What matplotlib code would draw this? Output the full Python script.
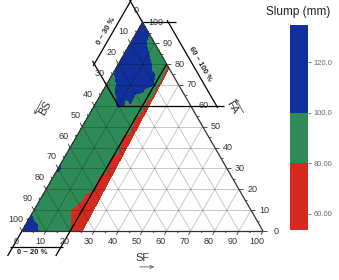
import numpy as np
import matplotlib
matplotlib.use('Agg')
import matplotlib.pyplot as plt
import matplotlib.tri as mtri

plt.rcParams['font.family'] = ['Liberation Sans', 'DejaVu Sans']

# Mix points: SF %, FA % (BS = 100 - SF - FA) and measured slump (mm)
sf = [0, 5, 10, 15, 20, 25,
      0, 5, 10, 15, 20, 24.5,
      0, 5, 10, 15, 20, 24.1,
      0, 5, 10, 15, 20, 23.7,
      0, 5, 10, 15, 20, 23.3,
      0, 5, 10, 15, 20, 22.9,
      0, 5, 10, 15, 20, 22.5,
      0, 5, 10, 15, 20, 22.2,
      0, 5, 10, 15, 20, 22.1,
      22,
      0, 5, 10, 15, 20,
      0, 5, 10,
      0, 5,
      0]
fa = [0, 0, 0, 0, 0, 0,
      10, 10, 10, 10, 10, 10,
      20, 20, 20, 20, 20, 20,
      30, 30, 30, 30, 30, 30,
      40, 40, 40, 40, 40, 40,
      50, 50, 50, 50, 50, 50,
      60, 60, 60, 60, 60, 60,
      70, 70, 70, 70, 70, 70,
      75, 75, 75, 75, 75, 75,
      78,
      80, 80, 80, 80, 80,
      90, 90, 90,
      95, 95,
      100]
slump = [118, 104, 92, 88, 80.5, 66,
         95, 90, 86, 80.3, 74, 62,
         90, 89, 88, 86, 80.5, 68,
         102, 90, 89, 88, 83, 70,
         92, 90, 89, 88, 84, 70,
         94, 92, 90, 89, 85, 70,
         92, 95, 100.8, 99, 86, 70,
         92, 101.5, 110, 108, 99.5, 70,
         98, 108, 112, 103, 97, 69,
         68,
         100.5, 112, 110, 96, 88,
         118, 104, 90,
         122, 101,
         125]

levels = [53.6, 80, 100, 134.7]
level_colors = ['#D52B1E', '#2E8B57', '#11309B']
cbar_ticks = [60, 80, 100, 120]
cbar_labels = ['60.00', '80.00', '100.0', '120.0']
tick_vals = list(range(0, 101, 10))

R3 = np.sqrt(3) / 2


def tern(s, f):
    # (SF, FA) -> cartesian, BS at bottom-left, SF at bottom-right, FA on top
    s = np.asarray(s, dtype=float)
    f = np.asarray(f, dtype=float)
    return s + f / 2, f * R3


def seg(p, q, **kw):
    x0, y0 = tern(*p)
    x1, y1 = tern(*q)
    ax.plot([x0, x1], [y0, y1], solid_capstyle='butt', **kw)


fig = plt.figure(figsize=(3.39, 2.80), dpi=100)
ax = fig.add_axes([0, 0, 1, 1])
ax.set_xlim(-22 / 2.41, (339 - 22) / 2.41)
ax.set_ylim((231 - 280) / 2.41, 231 / 2.41)
ax.axis('off')

# Filled contours
x, y = tern(sf, fa)
tri = mtri.Triangulation(x, y)
cs = ax.tricontourf(tri, slump, levels=levels, colors=level_colors, zorder=1)

# Grid
grid_kw = dict(color='k', alpha=0.25, lw=0.6, zorder=2)
for v in range(10, 100, 10):
    seg((v, 0), (v, 100 - v), **grid_kw)
    seg((0, v), (100 - v, v), **grid_kw)
    seg((0, 100 - v), (100 - v, 0), **grid_kw)

# Frame
edge_kw = dict(color='#333333', lw=0.9, zorder=3)
seg((0, 0), (100, 0), **edge_kw)
seg((100, 0), (0, 100), **edge_kw)
seg((0, 100), (0, 0), **edge_kw)

# Ticks and tick labels
tk = dict(color='#333333', lw=0.6, zorder=3)
lab = dict(fontsize=6.5, color='#333333', ha='center', va='center', zorder=5)
for v in range(0, 101, 5):
    L = 1.8 if v % 10 == 0 else 1.0
    seg((v, 0), (v, -L), **tk)
    seg((100 - v, v), (100 - v + L, v), **tk)
    seg((0, 100 - v), (-L, 100 - v + L), **tk)
for v in tick_vals:
    ax.text(*tern(v, -5), str(v), **lab)
    ax.text(*tern(100 - v + 5.5, v), str(v), **lab)
    ax.text(*tern(-5.5, 100 - v + 5.5), str(v), **lab)

# Range markers
blk = dict(color='black', lw=0.9, zorder=4)
seg((20, 80), (20, -12), **blk)
seg((0, 0), (0, -12), **blk)
seg((-1, -7.7), (21, -7.7), **blk)
seg((10, 60), (-11.5, 81.5), **blk)
seg((0, 100), (-11.5, 111.5), **blk)
seg((-10, 79), (-10, 111), **blk)
seg((10, 60), (54, 60), **blk)
seg((0, 100), (14, 100), **blk)
seg((110.7 - 59, 59), (110.7 - 101, 101), **blk)

dim = dict(fontsize=5.5, fontweight='bold', color='#222222', ha='center', va='center')
ax.text(*tern(9.5, -10.3), '0 ~ 20 %', **dim)
ax.text(*tern(-13, 96), '0 ~ 30 %', rotation=60, **dim)
ax.text(*tern(33.7, 80), '60 ~ 100 %', rotation=-60, **dim)

# Axis titles with arrows
ttl = dict(fontsize=8, color='#333333', ha='center', va='center')
arr = dict(arrowstyle='->', color='#555555', lw=0.6, mutation_scale=6)
ax.text(50.2, -11.2, 'SF', **ttl)
ax.annotate('', xy=(56, -14.9), xytext=(47.7, -14.9), arrowprops=arr)
ax.text(9.5, 51, 'BS', rotation=60, **ttl)
ax.annotate('', xy=(4.6, 47.3), xytext=(8.7, 55.2), arrowprops=arr)
ax.text(87.1, 51.5, 'FA', rotation=-60, **ttl)
ax.annotate('', xy=(88, 56), xytext=(92.5, 48.1), arrowprops=arr)

# Colour bar
cax = fig.add_axes([290 / 339, 50 / 280, 18 / 339, 205 / 280])
cb = fig.colorbar(cs, cax=cax, ticks=cbar_ticks, spacing='proportional')
cb.ax.set_yticklabels(cbar_labels)
cb.outline.set_visible(False)
cb.ax.tick_params(length=2.5, width=0.6, colors='#666666', labelsize=5.5, pad=1.5)
fig.text(298.5 / 339, 1 - 12.5 / 280, 'Slump (mm)', ha='center', va='center',
         fontsize=8.5, color='#222222')

fig.savefig('out.png', dpi=100)
